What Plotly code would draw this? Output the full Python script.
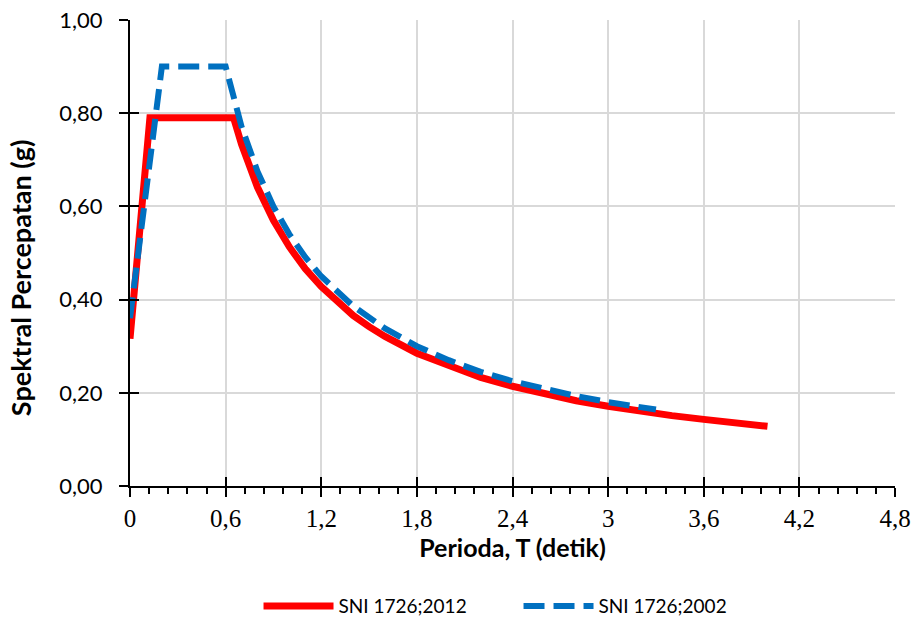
import plotly.graph_objects as go

# SNI 1726;2012 spectrum
t_2012 = [0, 0.125, 0.65, 0.7, 0.8, 0.9, 1.0, 1.1, 1.2, 1.3, 1.4, 1.5, 1.6, 1.8, 2.0,
          2.2, 2.4, 2.6, 2.8, 3.0, 3.2, 3.4, 3.6, 3.8, 4.0]
sa_2012 = [0.316, 0.79, 0.79, 0.733, 0.641, 0.570, 0.513, 0.466, 0.428, 0.395, 0.366,
           0.342, 0.321, 0.285, 0.257, 0.233, 0.214, 0.197, 0.183, 0.171, 0.160, 0.151,
           0.143, 0.135, 0.128]

# SNI 1726;2002 spectrum
t_2002 = [0, 0.2, 0.6, 0.7, 0.8, 0.9, 1.0, 1.1, 1.2, 1.4, 1.6, 1.8, 2.0, 2.2, 2.4,
          2.6, 2.8, 3.0, 3.2, 3.3]
sa_2002 = [0.36, 0.90, 0.90, 0.771, 0.675, 0.600, 0.540, 0.491, 0.450, 0.386, 0.338,
           0.300, 0.270, 0.245, 0.225, 0.208, 0.193, 0.180, 0.169, 0.164]

x_ticks = [0, 0.6, 1.2, 1.8, 2.4, 3.0, 3.6, 4.2, 4.8]
x_labels = ["0", "0,6", "1,2", "1,8", "2,4", "3", "3,6", "4,2", "4,8"]
y_ticks = [0, 0.2, 0.4, 0.6, 0.8, 1.0]
y_labels = ["0,00", "0,20", "0,40", "0,60", "0,80", "1,00"]

fig = go.Figure()
fig.add_trace(go.Scatter(x=t_2012, y=sa_2012, mode="lines", name="SNI 1726;2012",
                         line=dict(color="#FF0000", width=7)))
fig.add_trace(go.Scatter(x=t_2002, y=sa_2002, mode="lines", name="SNI 1726;2002",
                         line=dict(color="#0070C0", width=6, dash="21px,9px")))
# invisible trace for overlay axes
fig.add_trace(go.Scatter(x=[0], y=[0], xaxis="x2", yaxis="y2", showlegend=False,
                         mode="markers", marker=dict(opacity=0), hoverinfo="skip"))

xtick_font = dict(family="Liberation Serif", size=25, color="black")
ytick_font = dict(family="Lato", size=22, color="black")
title_font = dict(family="Lato", size=25, color="black")

fig.update_layout(
    width=913, height=620,
    margin=dict(l=130, r=18, t=20, b=134, autoexpand=False),
    paper_bgcolor="white", plot_bgcolor="white",
    showlegend=True,
    legend=dict(orientation="h", x=0.168, xanchor="left", y=-0.258, yanchor="middle",
                font=dict(family="Lato", size=19, color="black"),
                itemwidth=70, tracegroupgap=0, entrywidth=175),
    xaxis=dict(range=[0, 4.8], tickvals=x_ticks, ticktext=x_labels, tickfont=xtick_font,
               showgrid=True, gridcolor="#D9D9D9", gridwidth=1.5,
               showline=True, linecolor="black", linewidth=2,
               ticks="outside", ticklen=9, tickwidth=2, tickcolor="black",
               minor=dict(dtick=0.12, ticks="outside", ticklen=6, tickwidth=2,
                          tickcolor="black", showgrid=False),
               zeroline=False, automargin=False,
               title=dict(text="<b>Perioda, T (detik)</b>", font=title_font, standoff=6)),
    yaxis=dict(range=[0, 1.0], tickvals=y_ticks, ticktext=y_labels, tickfont=ytick_font,
               showgrid=True, gridcolor="#D9D9D9", gridwidth=1.5,
               showline=True, linecolor="black", linewidth=2,
               ticks="outside", ticklen=9, tickwidth=2, tickcolor="black",
               zeroline=False, ticklabelstandoff=12, automargin=False),
    xaxis2=dict(overlaying="x", range=[0, 4.8], tickvals=x_ticks, showticklabels=False,
                ticks="inside", ticklen=9, tickwidth=2, tickcolor="black",
                showgrid=False, zeroline=False, side="bottom", automargin=False),
    yaxis2=dict(overlaying="y", range=[0, 1.0], tickvals=y_ticks, showticklabels=False,
                ticks="inside", ticklen=9, tickwidth=2, tickcolor="black",
                showgrid=False, zeroline=False, side="left", automargin=False),
    annotations=[dict(text="<b>Spektral Percepatan (g)</b>", textangle=-90,
                      xref="paper", yref="paper", x=-0.1438, y=0.446,
                      xanchor="center", yanchor="middle", showarrow=False,
                      font=dict(family="Lato", size=27, color="black"))],
)

fig.write_html("out.html", post_script="document.body.style.margin='0';",
               config={"displayModeBar": False})
